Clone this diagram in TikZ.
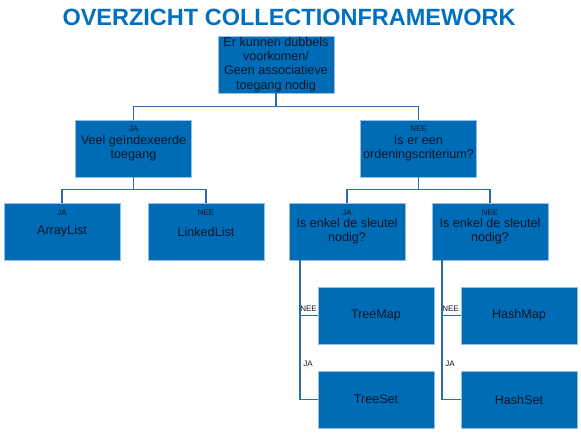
\documentclass[tikz,border=0pt]{standalone}
\usepackage{fontspec}
\setmainfont{Liberation Sans}
\definecolor{boxfill}{RGB}{0,108,182}
\definecolor{boxedge}{RGB}{150,190,230}
\definecolor{linkcol}{RGB}{40,110,170}
\definecolor{ink}{RGB}{10,22,40}
\definecolor{titleblue}{RGB}{0,112,192}
\begin{document}
\begin{tikzpicture}[x=1pt,y=-1pt,
  box/.style={draw=boxedge, line width=0.8pt, fill=boxfill, minimum width=116pt,
    minimum height=57pt, inner sep=0pt, align=center, text=ink,
    font=\fontsize{12.6}{14}\selectfont},
  tag/.style={text=ink, font=\fontsize{8}{9}\selectfont, inner sep=0.5pt},
  link/.style={draw=linkcol, line width=1.8pt},
]
\useasboundingbox (0,0) rectangle (581,432);

% title
\node[anchor=base, text=titleblue, font=\fontsize{23.5}{26}\selectfont\bfseries, inner sep=0pt]
  (title) at (289,25) {OVERZICHT COLLECTIONFRAMEWORK};

% boxes
\node[box, font=\fontsize{12.6}{14.3}\selectfont] (root) at (276,64.5)
  {Er kunnen dubbels\\voorkomen/\\Geen associatieve\\toegang nodig};
\node[box] (left)  at (133.5,148.5) {Veel geïndexeerde\\toegang};
\node[box] (right) at (418.5,148.5) {Is er een\\ordeningscriterium?};
\node[box] (arr)   at (62,231.5)  {ArrayList};
\node[box] (lnk)   at (206,231.5) {LinkedList};
\node[box] (ka)    at (347,231.5) {Is enkel de sleutel\\nodig?};
\node[box] (kn)    at (490,231.5) {Is enkel de sleutel\\nodig?};
\node[box] (tmap)  at (376,315.5) {TreeMap};
\node[box] (tset)  at (376,399.5) {TreeSet};
\node[box] (hmap)  at (519,315.5) {HashMap};
\node[box] (hset)  at (519,399.5) {HashSet};

% answer tags inside the boxes
\node[tag] (tleft)  at ([yshift=-9pt]left.north)  {JA};
\node[tag] (tright) at ([yshift=-9pt]right.north) {NEE};
\node[tag] (tarr)   at ([yshift=-10pt]arr.north)  {JA};
\node[tag] (tlnk)   at ([yshift=-10pt]lnk.north)  {NEE};
\node[tag] (tka)    at ([yshift=-10pt]ka.north)   {JA};
\node[tag] (tkn)    at ([yshift=-10pt]kn.north)   {NEE};

% tree connectors
\draw[link] (root.south) -- ++(0,13) coordinate (rj) -| (left.north);
\draw[link] (rj) -| (right.north);
\draw[link] (left.south) -- ++(0,12) coordinate (lj) -| (arr.north);
\draw[link] (lj) -| (lnk.north);
\draw[link] (right.south) -- ++(0,12) coordinate (oj) -| (ka.north);
\draw[link] (oj) -| (kn.north);

% side connectors to the leaves
\draw[link] ([xshift=-47pt]ka.south) |- (tset.west);
\draw[link] ([xshift=-47pt]ka.south) |- (tmap.west);
\draw[link] ([xshift=-48pt]kn.south) |- (hset.west);
\draw[link] ([xshift=-48pt]kn.south) |- (hmap.west);

% answer tags on the side connectors
\node[tag] (ntm) at (308.5,309) {NEE};
\node[tag] (jts) at (308,364) {JA};
\node[tag] (nhm) at (450.5,309) {NEE};
\node[tag] (jhs) at (450,364) {JA};
\end{tikzpicture}
\end{document}
